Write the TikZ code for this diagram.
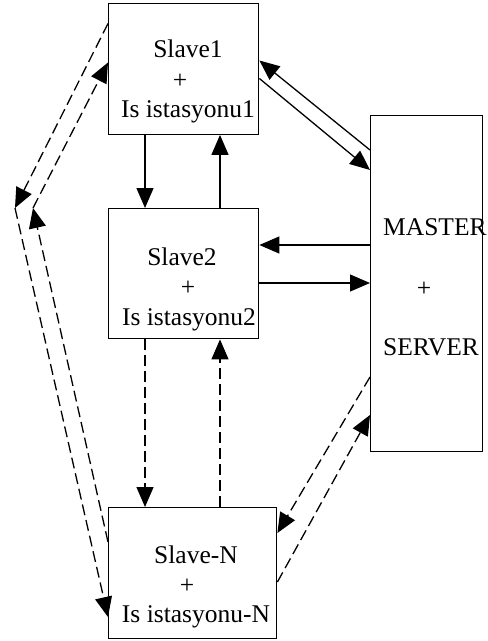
\documentclass[tikz,border=0pt]{standalone}
\usepackage{fontspec}
\setmainfont{Liberation Serif}
\usetikzlibrary{arrows.meta}
\tikzset{
  box/.style={draw, line width=1.4pt, inner sep=0pt, anchor=north west},
  txt/.style={inner sep=0pt, anchor=base, font=\fontsize{25.5}{30}\selectfont},
  conn/.style={line width=1.3pt, -{Triangle[length=20pt,width=17pt]}},
  dsh/.style={dash pattern=on 11pt off 5pt}
}
\begin{document}
\begin{tikzpicture}[x=1pt,y=-1pt]
\useasboundingbox (0,0) rectangle (488,641);
% boxes
\node[box, minimum width=150pt, minimum height=131pt] (s1) at (108,2.5) {};
\node[box, minimum width=150pt, minimum height=130pt] (s2) at (108,208) {};
\node[box, minimum width=168pt, minimum height=131pt] (sN) at (108,507) {};
\node[box, minimum width=112pt, minimum height=336pt] (m) at (370,115) {};
% texts
\node[txt] (s1a) at (188,57) {Slave1};
\node[txt] (s1b) at (180,88) {+};
\node[txt] (s1c) at (188,117) {Is istasyonu1};
\node[txt] (s2a) at (182,265) {Slave2};
\node[txt] (s2b) at (188,295) {+};
\node[txt] (s2c) at (189,325) {Is istasyonu2};
\node[txt] (sNa) at (196,563) {Slave-N};
\node[txt] (sNb) at (187,593) {+};
\node[txt] (sNc) at (196,622) {Is istasyonu-N};
\node[txt, anchor=base west] (ma) at (383,235) {MASTER};
\node[txt] (mb) at (424,296) {+};
\node[txt, anchor=base west] (mc) at (383,355) {SERVER};
% solid connectors
\draw[conn] ([xshift=37pt]s1.south west) -- ([xshift=37pt]s2.north west);
\draw[conn] ([xshift=112pt]s2.north west) -- ([xshift=112pt]s1.south west);
\draw[conn] ([yshift=-35pt]m.north west) -- ([yshift=-58pt]s1.north east);
\draw[conn] ([yshift=-76pt]s1.north east) -- ([yshift=-55pt]m.north west);
\draw[conn] ([yshift=-130pt]m.north west) -- ([yshift=-37pt]s2.north east);
\draw[conn] ([yshift=-75pt]s2.north east) -- ([yshift=-168pt]m.north west);
% dashed connectors
\draw[conn, dsh] ([xshift=37pt]s2.south west) -- ([xshift=37pt]sN.north west);
\draw[conn, dsh] ([xshift=112pt]sN.north west) -- ([xshift=112pt]s2.south west);
\draw[conn, dsh] ([yshift=-262pt]m.north west) -- ([yshift=-26pt]sN.north east);
\draw[conn, dsh] ([yshift=-75pt]sN.north east) -- ([yshift=-300pt]m.north west);
% left side
\coordinate (kO) at (15,208);
\coordinate (kI) at (33,208);
\draw[conn, dsh] ([yshift=-21pt]s1.north west) -- (kO);
\draw[conn, dsh] (kO) -- ([yshift=-110pt]sN.north west);
\draw[conn, dsh] ([yshift=-35pt]sN.north west) -- (kI);
\draw[conn, dsh] (kI) -- ([yshift=-60pt]s1.north west);
\end{tikzpicture}
\end{document}
